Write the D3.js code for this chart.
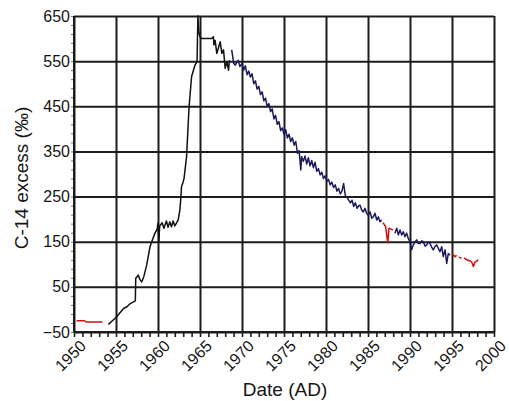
<!DOCTYPE html>
<html>
<head>
<meta charset="utf-8">
<script src="https://cdn.jsdelivr.net/npm/d3@7/dist/d3.min.js"></script>
<style>
  html, body { margin: 0; padding: 0; background: #fff; }
  text { font-family: "Liberation Sans", Arial, sans-serif; fill: #151515; }
</style>
</head>
<body>
<svg id="chart" width="509" height="401"></svg>
<script>
// Atmospheric C-14 excess, per mil, by date (AD)
const xMajorTicks = [1950, 1955, 1960, 1965, 1970, 1975, 1980, 1985, 1990, 1995, 2000];
const xMinorTicks = d3.range(1950, 2001, 1);
const yMajorTicks = [-50, 50, 150, 250, 350, 450, 550, 650];
const yMinorTicks = d3.range(-50, 651, 20);

// Early record (red)
const redEarly = [[1950.3, -25], [1951.2, -25], [1951.5, -28], [1953.4, -28]];

// Bomb-peak record (black)
const blackSeries = [
  [1954.1, -33], [1954.7, -23], [1955.0, -18], [1955.9, 2], [1956.3, 6], [1956.7, 13],
  [1957.3, 19], [1957.35, 69], [1957.65, 76], [1957.85, 66], [1958.05, 61], [1958.3, 72],
  [1958.65, 98], [1959.05, 139], [1959.25, 150], [1959.64, 169], [1959.9, 178], [1960.0, 191],
  [1960.1, 150], [1960.2, 185], [1960.5, 192], [1960.7, 180], [1961.0, 196], [1961.2, 182],
  [1961.4, 194], [1961.6, 183], [1961.8, 196], [1962.0, 185], [1962.4, 198], [1962.6, 220],
  [1962.7, 242], [1962.8, 272], [1963.0, 283], [1963.1, 290], [1963.4, 338], [1963.7, 449],
  [1964.0, 516], [1964.4, 541], [1964.65, 549], [1964.75, 650], [1964.85, 615], [1965.0, 604],
  [1965.2, 600], [1966.4, 600], [1966.6, 604], [1966.65, 586], [1966.8, 596], [1967.0, 567],
  [1967.4, 593], [1967.6, 567], [1967.8, 575], [1968.0, 534], [1968.2, 549], [1968.4, 530],
  [1968.5, 552]
];

// Long-term decline record (navy); null marks a gap in the record
const navySeries = [
  [1968.77, 575], [1968.9, 560], [1969.0, 546], [1969.2, 541], [1969.4, 548], [1969.56, 552],
  [1969.75, 538], [1970.0, 545], [1970.2, 530], [1970.4, 540], [1970.6, 520], [1970.8, 528],
  [1971.0, 515], [1971.2, 522], [1971.4, 500], [1971.6, 506], [1971.8, 488], [1972.0, 494],
  [1972.2, 476], [1972.4, 482], [1972.6, 462], [1972.8, 468], [1973.0, 450], [1973.2, 456],
  [1973.4, 438], [1973.6, 444], [1973.8, 422], [1974.0, 430], [1974.2, 410], [1974.4, 416],
  [1974.6, 396], [1974.8, 402], [1975.0, 388], [1975.2, 398], [1975.4, 380], [1975.6, 388],
  [1975.8, 372], [1976.0, 380], [1976.2, 364], [1976.4, 372], [1976.6, 346], [1976.8, 352],
  [1977.0, 309], [1977.1, 338], [1977.3, 328], [1977.5, 340], [1977.7, 322], [1977.9, 336],
  [1978.1, 318], [1978.3, 330], [1978.5, 314], [1978.7, 326], [1978.9, 306], [1979.1, 312],
  [1979.3, 298], [1979.5, 304], [1979.7, 290], [1979.9, 296], [1980.1, 284], [1980.3, 288],
  [1980.5, 276], [1980.7, 282], [1980.9, 270], [1981.1, 276], [1981.3, 262], [1981.5, 268],
  [1981.7, 256], [1981.9, 262], [1982.1, 279], [1982.3, 252], [1982.5, 248], [1982.7, 242],
  [1982.9, 236], [1983.1, 242], [1983.3, 228], [1983.5, 236], [1983.7, 224], [1983.9, 230],
  [1984.05, 231], [1984.25, 220], [1984.44, 216], [1984.64, 224], [1984.85, 212], [1985.04, 209],
  [1985.24, 216], [1985.45, 202], [1985.63, 205], [1985.83, 213], [1986.04, 198], [1986.23, 205],
  [1986.43, 194], [1986.63, 198],
  [1987.5, null],
  [1988.21, 169], [1988.42, 180], [1988.61, 165], [1988.81, 176], [1989.01, 165], [1989.2, 172],
  [1989.4, 161], [1989.6, 169], [1989.8, 157], [1990.0, 150], [1990.2, 132], [1990.39, 143],
  [1990.6, 150], [1990.8, 154], [1990.99, 146], [1991.19, 146], [1991.4, 152], [1991.58, 150],
  [1991.8, 140], [1991.99, 143], [1992.2, 150], [1992.38, 146], [1992.58, 138], [1992.77, 132],
  [1993.0, 140], [1993.18, 143], [1993.4, 134], [1993.57, 128], [1993.77, 139], [1993.96, 117],
  [1994.17, 132], [1994.37, 102], [1994.56, 124], [1994.76, 120]
];

// Recent records (red)
const redMid = [[1986.75, 192], [1986.95, 188], [1987.1, 183], [1987.35, 148], [1987.5, 180], [1987.75, 178], [1987.95, 176]];
const redLate = [
  [1994.96, 124], [1995.36, 117], [1995.55, 120], [1995.65, null], [1995.8, 116], [1996.15, 113],
  [1996.3, null], [1996.45, 114], [1996.75, 110], [1997.1, 108], [1997.35, 105], [1997.54, 95],
  [1997.74, 105], [1998.13, 110]
];

const svg = d3.select("#chart");
const margin = { left: 74, right: 15, top: 16, bottom: 69 };
const W = 509, H = 401;
const innerW = W - margin.left - margin.right;
const innerH = H - margin.top - margin.bottom;

const x = d3.scaleLinear().domain([1950, 2000]).range([margin.left, margin.left + innerW]);
const y = d3.scaleLinear().domain([-50, 650]).range([margin.top + innerH, margin.top]);

const gridColor = "#1c1c1c";

// Small minor ticks on the y axis
const yMinor = svg.append("g")
  .attr("transform", `translate(${margin.left},0)`)
  .call(d3.axisLeft(y).tickValues(yMinorTicks).tickSize(3).tickFormat(""));
yMinor.select(".domain").remove();
yMinor.selectAll(".tick line").attr("stroke", "#777").attr("stroke-width", 1);

// Horizontal grid lines + y tick labels
const yAxis = svg.append("g")
  .attr("transform", `translate(${margin.left},0)`)
  .call(d3.axisLeft(y).tickValues(yMajorTicks).tickSize(-innerW).tickSizeOuter(0).tickPadding(4));
yAxis.select(".domain").remove();
yAxis.selectAll(".tick line").attr("stroke", gridColor).attr("stroke-width", 2);
yAxis.selectAll(".tick text")
  .style("font-size", "16px")
  .attr("fill", "#151515");

// Vertical grid lines
const xGrid = svg.append("g")
  .attr("transform", `translate(0,${margin.top + innerH})`)
  .call(d3.axisBottom(x).tickValues(xMajorTicks).tickSize(-innerH).tickFormat(""));
xGrid.select(".domain").remove();
xGrid.selectAll(".tick line").attr("stroke", gridColor).attr("stroke-width", 2);

// Yearly minor ticks below the x axis
const xMinor = svg.append("g")
  .attr("transform", `translate(0,${margin.top + innerH})`)
  .call(d3.axisBottom(x).tickValues(xMinorTicks).tickSize(5).tickFormat(""));
xMinor.select(".domain").remove();
xMinor.selectAll(".tick line").attr("stroke", gridColor).attr("stroke-width", 1.6);

// Axis lines
svg.append("line")
  .attr("x1", x(1950)).attr("x2", x(2000))
  .attr("y1", y(-50)).attr("y2", y(-50))
  .attr("stroke", gridColor).attr("stroke-width", 2);
svg.append("line")
  .attr("x1", x(1950)).attr("x2", x(1950))
  .attr("y1", y(-50)).attr("y2", y(650))
  .attr("stroke", gridColor).attr("stroke-width", 2);

// Rotated x tick labels
svg.append("g").selectAll("text")
  .data(xMajorTicks)
  .join("text")
  .attr("transform", d => `translate(${x(d) + 13},${y(-50) + 15}) rotate(-45)`)
  .attr("text-anchor", "end")
  .style("font-size", "16px")
  .text(d => d);

// Data lines
const line = d3.line()
  .defined(d => d[1] !== null)
  .x(d => x(d[0]))
  .y(d => y(d[1]));

const series = [
  { data: redEarly, color: "#cc1111" },
  { data: blackSeries, color: "#111111" },
  { data: navySeries, color: "#1b1a5c" },
  { data: redMid, color: "#cc1111" },
  { data: redLate, color: "#cc1111" }
];
svg.append("g").selectAll("path")
  .data(series)
  .join("path")
  .attr("d", d => line(d.data))
  .attr("fill", "none")
  .attr("stroke", d => d.color)
  .attr("stroke-width", 1.5)
  .attr("stroke-linejoin", "round");

// Axis titles
svg.append("text")
  .attr("x", 285).attr("y", 396)
  .attr("text-anchor", "middle")
  .style("font-size", "19px")
  .text("Date (AD)");

svg.append("text")
  .attr("transform", `translate(28,${margin.top + innerH / 2 + 4}) rotate(-90)`)
  .attr("text-anchor", "middle")
  .style("font-size", "19px")
  .text("C-14 excess (‰)");
</script>
</body>
</html>
